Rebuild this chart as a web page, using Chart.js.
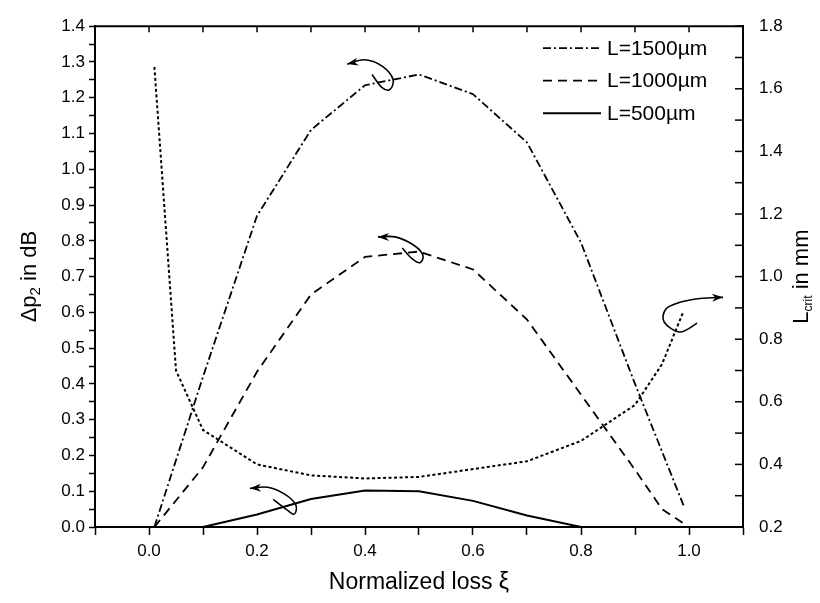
<!DOCTYPE html>
<html>
<head>
<meta charset="utf-8">
<script src="https://cdn.jsdelivr.net/npm/chart.js@4"></script>
<style>
  html, body { margin: 0; padding: 0; background: #fff; }
</style>
</head>
<body>
<canvas id="chart" width="820" height="603"></canvas>
<script>
// values
const xi1500 = [0.01, 0.1, 0.2, 0.3, 0.4, 0.5, 0.6, 0.7, 0.8, 0.9, 0.99];
const dp1500 = [0.0, 0.42, 0.87, 1.11, 1.235, 1.265, 1.21, 1.075, 0.795, 0.40, 0.06];

const xi1000 = [0.01, 0.1, 0.2, 0.3, 0.4, 0.5, 0.6, 0.7, 0.8, 0.9, 0.95, 0.99];
const dp1000 = [0.0, 0.167, 0.434, 0.65, 0.755, 0.77, 0.72, 0.58, 0.37, 0.16, 0.05, 0.01];

const xi500 = [0.1, 0.2, 0.3, 0.4, 0.5, 0.6, 0.7, 0.8];
const dp500 = [0.0, 0.035, 0.078, 0.102, 0.10, 0.073, 0.032, 0.0];

const xiCrit = [0.01, 0.05, 0.1, 0.2, 0.3, 0.4, 0.5, 0.6, 0.7, 0.8, 0.9, 0.95, 0.99];
const lCrit = [1.67, 0.70, 0.51, 0.40, 0.365, 0.355, 0.36, 0.385, 0.41, 0.475, 0.59, 0.72, 0.89];

const seriesLabels = ['L=1500\u00b5m', 'L=1000\u00b5m', 'L=500\u00b5m'];
const xTickValues = [-0.1, 0.0, 0.1, 0.2, 0.3, 0.4, 0.5, 0.6, 0.7, 0.8, 0.9, 1.0, 1.1];

const FONT = '"Liberation Sans", Arial, Helvetica, sans-serif';
const toPts = (xs, ys) => xs.map((x, i) => ({ x, y: ys[i] }));

// curly arrows telling which axis a curve belongs to (head first, data units of x / left y)
const arrows = [
  [[0.367, 1.294], [0.400, 1.306], [0.433, 1.287], [0.452, 1.251], [0.446, 1.223], [0.431, 1.229], [0.413, 1.265]],
  [[0.424, 0.811], [0.456, 0.811], [0.489, 0.789], [0.507, 0.761], [0.502, 0.739], [0.487, 0.750], [0.469, 0.780]],
  [[0.187, 0.108], [0.220, 0.111], [0.252, 0.091], [0.272, 0.061], [0.269, 0.036], [0.256, 0.047], [0.230, 0.077]],
  [[1.063, 0.642], [1.020, 0.639], [0.983, 0.628], [0.957, 0.609], [0.954, 0.573], [0.983, 0.545], [1.015, 0.570]]
];

const frameAndExtras = {
  id: 'frameAndExtras',
  afterDatasetsDraw(chart) {
    const { ctx, chartArea: a, scales } = chart;
    const xs = scales.x, ys = scales.y, y2 = scales.y2;
    ctx.save();
    ctx.strokeStyle = '#000';
    ctx.fillStyle = '#000';

    // top frame line with inward ticks
    ctx.lineWidth = 2;
    ctx.beginPath();
    ctx.moveTo(a.left - 1, a.top);
    ctx.lineTo(a.right + 1, a.top);
    ctx.stroke();
    ctx.lineWidth = 1.5;
    xTickValues.forEach(v => {
      const px = xs.getPixelForValue(v);
      ctx.beginPath();
      ctx.moveTo(px, a.top);
      ctx.lineTo(px, a.top + 6);
      ctx.stroke();
    });
    // right axis inward ticks every 0.1
    for (let i = 2; i <= 18; i++) {
      const py = y2.getPixelForValue(i / 10);
      ctx.beginPath();
      ctx.moveTo(a.right, py);
      ctx.lineTo(a.right - 8, py);
      ctx.stroke();
    }

    // curly arrows
    ctx.lineWidth = 1.6;
    arrows.forEach(ar => {
      const p = ar.map(([x, y]) => [xs.getPixelForValue(x), ys.getPixelForValue(y)]);
      ctx.beginPath();
      ctx.moveTo(p[0][0], p[0][1]);
      for (let i = 0; i < p.length - 1; i++) {
        const p0 = p[Math.max(i - 1, 0)], p1 = p[i], p2 = p[i + 1], p3 = p[Math.min(i + 2, p.length - 1)];
        ctx.bezierCurveTo(
          p1[0] + (p2[0] - p0[0]) / 6, p1[1] + (p2[1] - p0[1]) / 6,
          p2[0] - (p3[0] - p1[0]) / 6, p2[1] - (p3[1] - p1[1]) / 6,
          p2[0], p2[1]);
      }
      ctx.stroke();
      // arrow head
      const [hx, hy] = p[0];
      const ang = Math.atan2(hy - p[1][1], hx - p[1][0]);
      const len = 11, wid = 4;
      ctx.beginPath();
      ctx.moveTo(hx, hy);
      ctx.lineTo(hx - len * Math.cos(ang) + wid * Math.sin(ang), hy - len * Math.sin(ang) - wid * Math.cos(ang));
      ctx.lineTo(hx - len * 0.7 * Math.cos(ang), hy - len * 0.7 * Math.sin(ang));
      ctx.lineTo(hx - len * Math.cos(ang) - wid * Math.sin(ang), hy - len * Math.sin(ang) + wid * Math.cos(ang));
      ctx.closePath();
      ctx.fill();
    });

    // legend
    ctx.font = '21px ' + FONT;
    ctx.textBaseline = 'middle';
    ctx.textAlign = 'left';
    [0, 1, 2].forEach(i => {
      const ds = chart.data.datasets[i];
      const y = a.top + 22 + i * 32.5;
      ctx.lineWidth = ds.borderWidth;
      ctx.setLineDash(ds.borderDash || []);
      ctx.beginPath();
      ctx.moveTo(a.right - 200, y);
      ctx.lineTo(a.right - 142, y);
      ctx.stroke();
      ctx.setLineDash([]);
      ctx.fillText(ds.label, a.right - 136, y + 1);
    });

    // axis titles
    ctx.font = '23px ' + FONT;
    ctx.textAlign = 'center';
    ctx.textBaseline = 'middle';
    ctx.fillText('Normalized loss \u03be', (a.left + a.right) / 2, 583);

    const drawRotTitle = (cx, cy, parts) => {
      ctx.save();
      ctx.translate(cx, cy);
      ctx.rotate(-Math.PI / 2);
      ctx.textAlign = 'left';
      let total = 0;
      parts.forEach(pt => { ctx.font = pt.size + 'px ' + FONT; total += ctx.measureText(pt.t).width; });
      let x = -total / 2;
      parts.forEach(pt => {
        ctx.font = pt.size + 'px ' + FONT;
        ctx.fillText(pt.t, x, pt.dy);
        x += ctx.measureText(pt.t).width;
      });
      ctx.restore();
    };
    drawRotTitle(30, (a.top + a.bottom) / 2, [
      { t: '\u0394p', size: 22, dy: 0 }, { t: '2', size: 15, dy: 6 }, { t: ' in dB', size: 22, dy: 0 }
    ]);
    drawRotTitle(802, (a.top + a.bottom) / 2, [
      { t: 'L', size: 22, dy: 0 }, { t: 'crit', size: 12, dy: 7 }, { t: ' in mm', size: 22, dy: 0 }
    ]);
    ctx.restore();
  }
};

const tickFont = { family: FONT, size: 17 };

new Chart(document.getElementById('chart'), {
  type: 'line',
  data: {
    datasets: [
      { label: seriesLabels[0], data: toPts(xi1500, dp1500), yAxisID: 'y', borderColor: '#000', borderWidth: 1.8, borderDash: [8, 3, 2, 3] },
      { label: seriesLabels[1], data: toPts(xi1000, dp1000), yAxisID: 'y', borderColor: '#000', borderWidth: 1.8, borderDash: [9, 6] },
      { label: seriesLabels[2], data: toPts(xi500, dp500), yAxisID: 'y', borderColor: '#000', borderWidth: 2 },
      { label: 'Lcrit', data: toPts(xiCrit, lCrit), yAxisID: 'y2', borderColor: '#000', borderWidth: 2, borderDash: [3, 2.5] }
    ]
  },
  options: {
    responsive: false,
    animation: false,
    devicePixelRatio: 1,
    layout: { padding: { top: 21, left: 0, right: 0, bottom: 0 } },
    elements: { point: { radius: 0 }, line: { tension: 0, fill: false } },
    plugins: { legend: { display: false }, tooltip: { enabled: false } },
    scales: {
      x: {
        type: 'linear', position: 'bottom', min: -0.1, max: 1.1,
        afterBuildTicks: s => { s.ticks = xTickValues.map(v => ({ value: v })); },
        afterFit: s => { s.height = 76; },
        ticks: {
          autoSkip: false, maxRotation: 0, color: '#000', font: tickFont, padding: 6,
          callback: v => (Math.abs(Math.round(v * 10)) % 2 === 0 && v >= -0.01 && v <= 1.01) ? v.toFixed(1) : ''
        },
        grid: { drawOnChartArea: false, drawTicks: true, tickLength: 8, color: '#000', tickWidth: 1.5 },
        border: { display: true, color: '#000', width: 2 }
      },
      y: {
        type: 'linear', position: 'left', min: 0, max: 1.4,
        afterBuildTicks: s => {
          const t = [];
          for (let i = 0; i <= 28; i++) t.push({ value: i * 0.05 });
          s.ticks = t;
        },
        afterFit: s => { s.width = 95; },
        ticks: {
          autoSkip: false, color: '#000', font: tickFont, padding: 4,
          callback: v => Math.round(v * 20) % 2 === 0 ? v.toFixed(1) : ''
        },
        grid: { drawOnChartArea: false, drawTicks: true, tickLength: 6, color: '#000', tickWidth: 1.5 },
        border: { display: true, color: '#000', width: 2 }
      },
      y2: {
        type: 'linear', position: 'right', min: 0.2, max: 1.8,
        afterFit: s => { s.width = 77; },
        ticks: { stepSize: 0.2, autoSkip: false, color: '#000', font: tickFont, padding: 16,
          callback: v => v.toFixed(1) },
        grid: { drawOnChartArea: false, drawTicks: false },
        border: { display: true, color: '#000', width: 2 }
      }
    }
  },
  plugins: [frameAndExtras]
});
</script>
</body>
</html>
